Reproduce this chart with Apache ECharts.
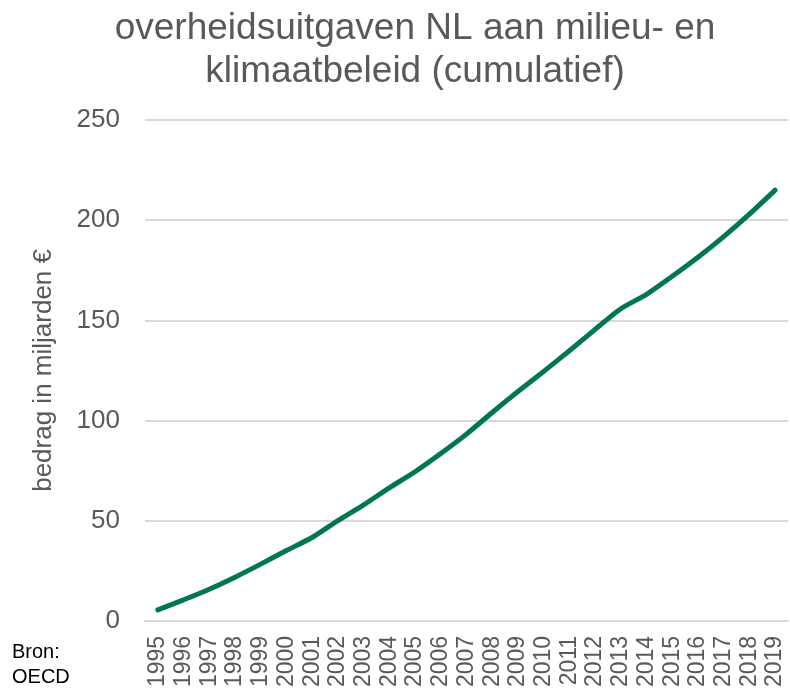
<!DOCTYPE html>
<html><head><meta charset="utf-8">
<script src="https://cdn.jsdelivr.net/npm/echarts@6/dist/echarts.min.js"></script>
<style>html,body{margin:0;padding:0;background:#fff}#c{width:790px;height:690px}</style>
</head><body><div id="c"></div>
<script>
var years = ['1995','1996','1997','1998','1999','2000','2001','2002','2003','2004','2005','2006','2007','2008','2009','2010','2011','2012','2013','2014','2015','2016','2017','2018','2019'];
var cumulative = [5.5,10.5,15.8,21.8,28.3,35.1,41.6,50.0,57.9,66.4,74.4,83.5,93.2,104.0,114.5,124.5,134.8,145.5,155.8,163.0,172.0,181.5,191.8,203.0,215.0];
var titleText = 'overheidsuitgaven NL aan milieu- en\nklimaatbeleid (cumulatief)';
var yName = 'bedrag in miljarden €';
var sourceText = 'Bron:\nOECD';
var chart = echarts.init(document.getElementById('c'));
chart.setOption({
  animation:false,
  title:{text:titleText,left:410,top:2,textAlign:'center',textStyle:{fontFamily:'Liberation Sans',fontSize:37,fontWeight:'normal',color:'#595959',lineHeight:43}},
  graphic:[{type:'text',left:12,top:640,style:{text:sourceText,font:'20px Liberation Sans',fill:'#000',lineHeight:25}}],
  grid:{left:145,right:2,top:120,bottom:69},
  xAxis:{type:'category',data:years,boundaryGap:true,
    axisLine:{show:true,lineStyle:{color:'#d9d9d9',width:2}},axisTick:{show:false},
    axisLabel:{rotate:90,fontFamily:'Liberation Sans',fontSize:23,color:'#595959',margin:15,interval:0}},
  yAxis:{type:'value',min:0,max:250,interval:50,
    name:yName,nameLocation:'middle',nameGap:88,nameRotate:90,
    nameTextStyle:{fontFamily:'Liberation Sans',fontSize:26,color:'#595959'},
    axisLine:{show:false},axisTick:{show:false},
    axisLabel:{fontFamily:'Liberation Sans',fontSize:26,color:'#595959',margin:25},
    splitLine:{lineStyle:{color:'#d9d9d9',width:2}}},
  series:[{type:'line',data:cumulative,showSymbol:false,smooth:0.2,
    lineStyle:{color:'#00784a',width:5,cap:'round'},itemStyle:{color:'#00784a'}}]
});
</script></body></html>
